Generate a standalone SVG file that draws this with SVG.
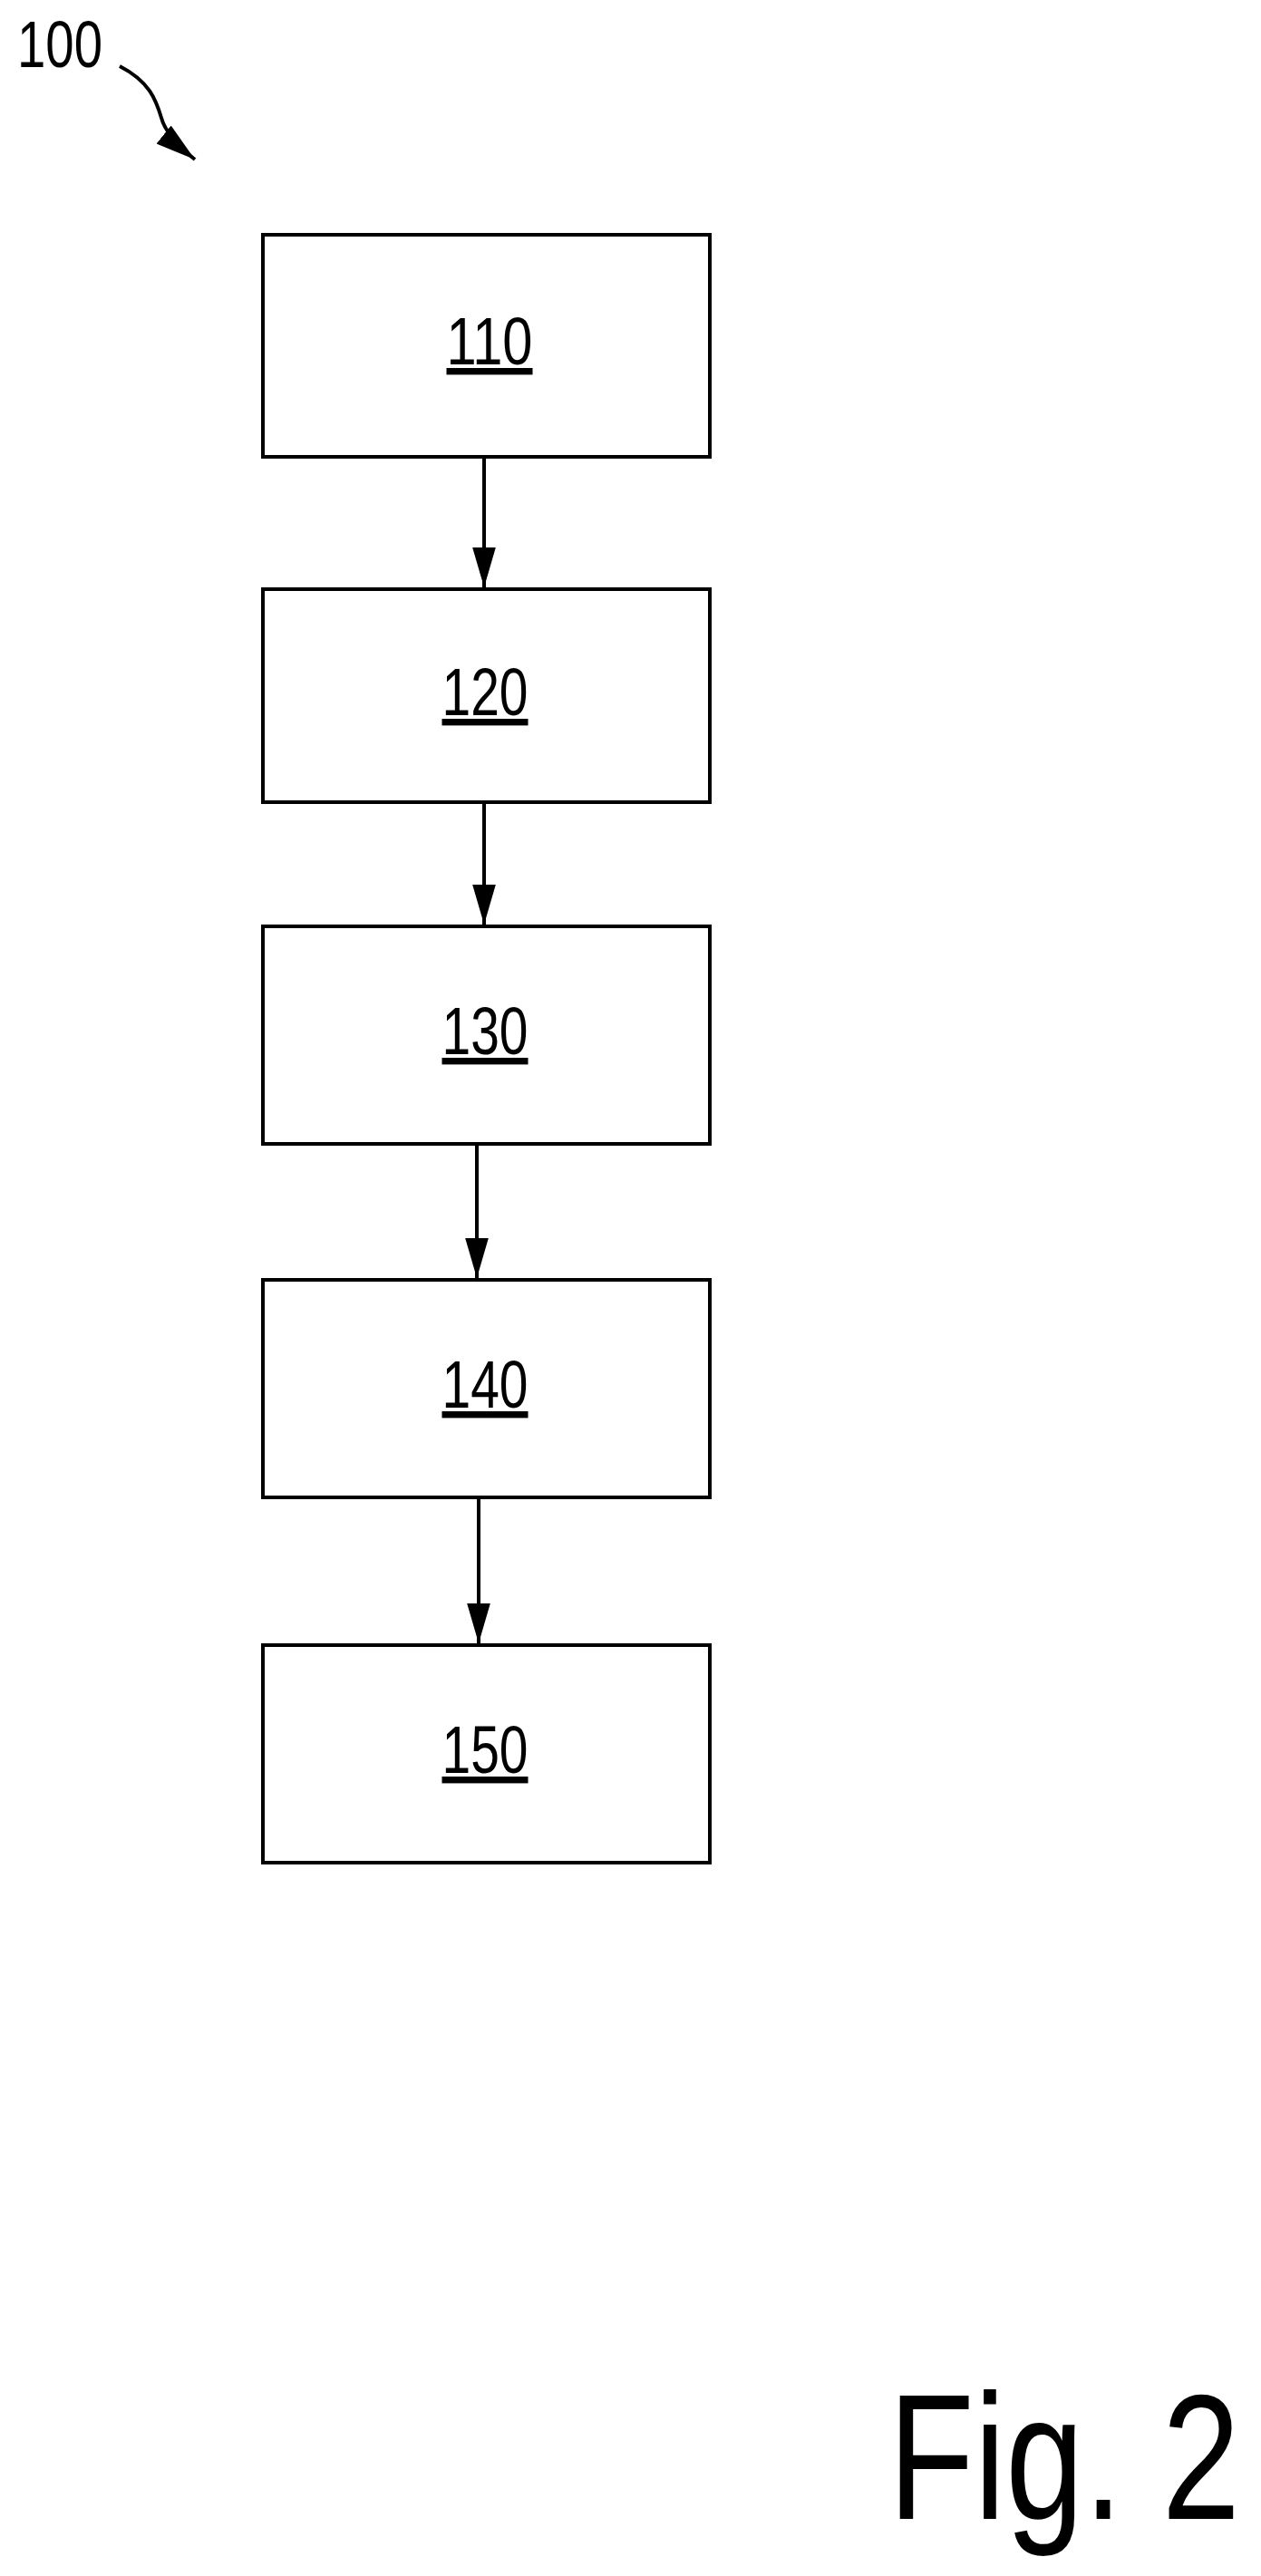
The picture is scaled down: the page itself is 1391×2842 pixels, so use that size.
<svg xmlns="http://www.w3.org/2000/svg" width="1391" height="2842" viewBox="0 0 1391 2842">
<style>
.box{fill:#fff;stroke:#000;stroke-width:4}
.lbl{font-family:"Liberation Sans",Arial,sans-serif;font-size:74px;text-anchor:middle;text-decoration:underline;fill:#000}
.con{stroke:#000;stroke-width:4;fill:none}
</style>
<defs>
<marker id="ah2" viewBox="0 0 24 14" refX="24" refY="7" markerWidth="44" markerHeight="26" orient="auto" markerUnits="userSpaceOnUse">
<path d="M0,0 L24,7 L0,14 Z" fill="#000"/>
</marker>
</defs>
<text x="19" y="74" font-family="Liberation Sans,Arial,sans-serif" font-size="72" textLength="94" lengthAdjust="spacingAndGlyphs">100</text>
<g id="n110"><rect class="box" x="290" y="259" width="493" height="245"/><text class="lbl" x="540" y="402" textLength="95" lengthAdjust="spacingAndGlyphs">110</text></g>
<g id="n120"><rect class="box" x="290" y="650" width="493" height="235"/><text class="lbl" x="535" y="789" textLength="95" lengthAdjust="spacingAndGlyphs">120</text></g>
<g id="n130"><rect class="box" x="290" y="1022" width="493" height="240"/><text class="lbl" x="535" y="1163" textLength="95" lengthAdjust="spacingAndGlyphs">130</text></g>
<g id="n140"><rect class="box" x="290" y="1412" width="493" height="240"/><text class="lbl" x="535" y="1553" textLength="95" lengthAdjust="spacingAndGlyphs">140</text></g>
<g id="n150"><rect class="box" x="290" y="1815" width="493" height="240"/><text class="lbl" x="535" y="1956" textLength="95" lengthAdjust="spacingAndGlyphs">150</text></g>
<g id="connectors">
<path class="con" d="M132,73 C165,90 172,110 178,130 C182,145 195,160 215,176" marker-end="url(#ah2)"/>
<line class="con" x1="534" y1="504" x2="534" y2="648" marker-end="url(#ah2)"/>
<line class="con" x1="534" y1="885" x2="534" y2="1020" marker-end="url(#ah2)"/>
<line class="con" x1="526" y1="1262" x2="526" y2="1410" marker-end="url(#ah2)"/>
<line class="con" x1="528" y1="1652" x2="528" y2="1813" marker-end="url(#ah2)"/>
</g>
<text x="980" y="2779" font-family="Liberation Sans,Arial,sans-serif" font-size="197" textLength="388" lengthAdjust="spacingAndGlyphs">Fig. 2</text>
</svg>
